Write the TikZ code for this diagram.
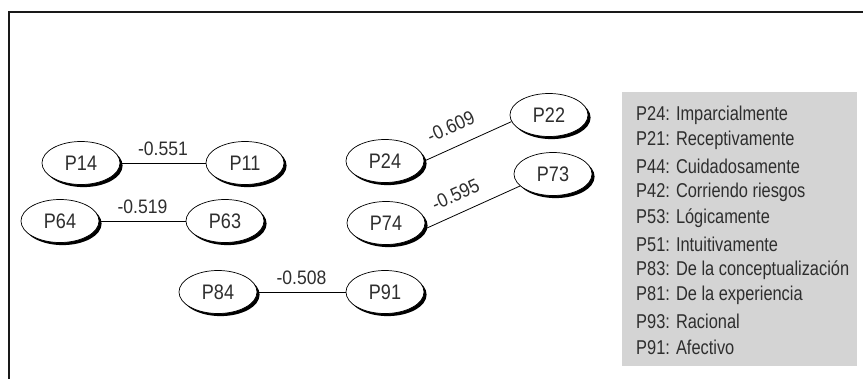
\documentclass[tikz,border=0pt]{standalone}
\usepackage{fontspec}
\setmainfont{Liberation Sans}[FakeStretch=0.86]
\newfontfamily\weightfont{Liberation Sans}[FakeStretch=0.9]
\newfontfamily\legendfont{Liberation Sans}[FakeStretch=0.82]
\usetikzlibrary{shapes.geometric,shadows}
\definecolor{ink}{HTML}{2E2E2E}
\definecolor{legendgray}{HTML}{D4D4D4}
\begin{document}
\begin{tikzpicture}[x=1pt,y=-1pt,
  item/.style={ellipse,draw=black,line width=0.7pt,fill=white,
    minimum width=78pt,minimum height=43pt,inner sep=0pt,
    text=ink,font=\fontsize{21}{24}\selectfont,
    drop shadow={shadow xshift=2.6pt,shadow yshift=-2.6pt,fill=black,opacity=1}},
  link/.style={draw=black,line width=0.8pt},
  weight/.style={text=ink,font=\weightfont\fontsize{19.5}{22}\selectfont,inner sep=2pt},
  legendline/.style={anchor=west,text=ink,inner sep=0pt,
    font=\legendfont\fontsize{20}{24}\selectfont}]
\useasboundingbox (0,0) rectangle (863,379);

% frame (open on the right and at the bottom)
\draw[line width=2.6pt,draw=black!90] (9,379) -- (9,12) -- (863,12);

% item nodes
\node[item] (p14) at (81,163) {P14};
\node[item] (p11) at (245,163) {P11};
\node[item] (p64) at (60,221) {P64};
\node[item] (p63) at (225,221) {P63};
\node[item] (p84) at (218,292) {P84};
\node[item] (p91) at (385,292) {P91};
\node[item] (p24) at (385,161) {P24};
\node[item] (p22) at (549,115) {P22};
\node[item] (p74) at (386,223) {P74};
\node[item] (p73) at (553,174) {P73};

% correlations
\draw[link] (p14) -- node[weight,midway,above=5pt] {-0.551} (p11);
\draw[link] (p64) -- node[weight,midway,above=5pt] {-0.519} (p63);
\draw[link] (p84) -- node[weight,midway,above=5pt] {-0.508} (p91);
\draw[link] (p24.east) -- node[weight,pos=0.4,above=11pt,sloped] {-0.609} (p22.190);
\draw[link] (p74.-10) -- node[weight,pos=0.41,above=9pt,sloped] {-0.595} (p73.200);

% legend
\node[fill=legendgray,inner sep=0pt,minimum width=235pt,minimum height=274pt,
  anchor=north west] (legend) at (622,92) {};
\foreach \t [count=\i] in {P24: Imparcialmente,P21: Receptivamente,
  P44: Cuidadosamente,P42: Corriendo riesgos,P53: Lógicamente,
  P51: Intuitivamente,P83: De la conceptualización,P81: De la experiencia,
  P93: Racional,P91: Afectivo}
  \node[legendline] (leg\i) at (636,{115+25.8*(\i-1)}) {\t};
\end{tikzpicture}
\end{document}
